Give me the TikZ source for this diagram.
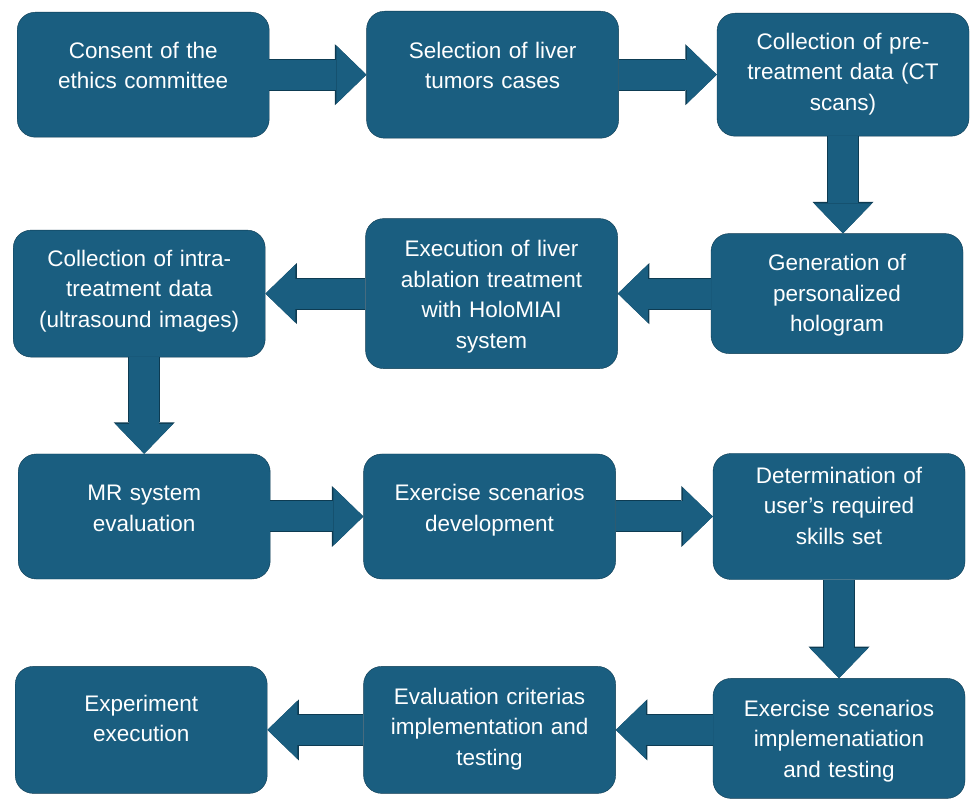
\documentclass[tikz,border=0pt]{standalone}
\usepackage{fontspec}
\setmainfont{Liberation Sans}
\usetikzlibrary{positioning, calc, arrows.meta}
\definecolor{stageblue}{HTML}{1A5E80}
\definecolor{stageedge}{HTML}{0D3B52}
\tikzset{
  stage/.style={draw=stageedge, fill=stageblue, thin, rounded corners=18pt, text=white, align=center,
    text width=238pt, inner xsep=7pt, inner ysep=0pt, font=\fontsize{22.5}{30.5}\selectfont},
  fatarrow/.style={draw=stageblue, line width=30pt, -{Triangle[length=30pt, width=58pt, line width=0pt]},
    preaction={draw=stageedge, line width=32pt, -{Triangle[length=31.5pt, width=61pt, line width=0pt]}}}
}
\begin{document}
\begin{tikzpicture}[x=1pt, y=1pt]
    \useasboundingbox (0,0) rectangle (970,-799);
    % first row
    \node[stage, text height=46pt, text depth=79pt, anchor=north west] (consent) at (17,-12) {Consent of the\\ethics committee};
    \node[stage, text height=47pt, text depth=80pt, right=97pt of consent] (selection) {Selection of liver\\tumors cases};
    \node[stage, text height=36pt, text depth=87pt, right=98pt of selection] (pretreat) {Collection of pre-\\treatment data (CT\\scans)};
    \draw[fatarrow] (consent) -- (selection);
    \draw[fatarrow] (selection) -- (pretreat);
    % second row
    \node[stage, text height=37pt, text depth=83pt, below=97pt of pretreat, xshift=-6pt] (hologram) {Generation of\\personalized\\hologram};
    \draw[fatarrow] (pretreat.south) -- (pretreat.south |- hologram.north);
    \node[stage, text height=38pt, text depth=112pt, left=93pt of hologram] (execution) {Execution of liver\\ablation treatment\\with HoloMIAI\\system};
    \draw[fatarrow] (hologram) -- (execution);
    \node[stage, text height=36pt, text depth=91pt, left=100pt of execution] (intra) {Collection of intra-\\treatment data\\(ultrasound images)};
    \draw[fatarrow] (execution) -- (intra);
    % third row
    \node[stage, text height=47pt, text depth=78pt, below=96.5pt of intra, xshift=5pt] (mrsys) {MR system\\evaluation};
    \draw[fatarrow] (intra.south -| mrsys.north) -- (mrsys.north);
    \node[stage, text height=47pt, text depth=78pt, right=93pt of mrsys] (devel) {Exercise scenarios\\development};
    \draw[fatarrow] (mrsys) -- (devel);
    \node[stage, text height=30pt, text depth=96pt, right=97pt of devel] (skills) {Determination of\\user’s required\\skills set};
    \draw[fatarrow] (devel) -- (skills);
    % last row
    \node[stage, text height=38pt, text depth=82pt, below=98.5pt of skills] (implem) {Exercise scenarios\\implemenatiation\\and testing};
    \draw[fatarrow] (skills) -- (implem);
    \node[stage, text height=38pt, text depth=89pt, left=97pt of implem, yshift=8.5pt] (evalcrit) {Evaluation criterias\\implementation and\\testing};
    \draw[fatarrow] (implem.west |- evalcrit) -- (evalcrit);
    \node[stage, text height=45pt, text depth=82pt, left=96pt of evalcrit] (experiment) {Experiment\\execution};
    \draw[fatarrow] (evalcrit) -- (experiment);
\end{tikzpicture}
\end{document}
